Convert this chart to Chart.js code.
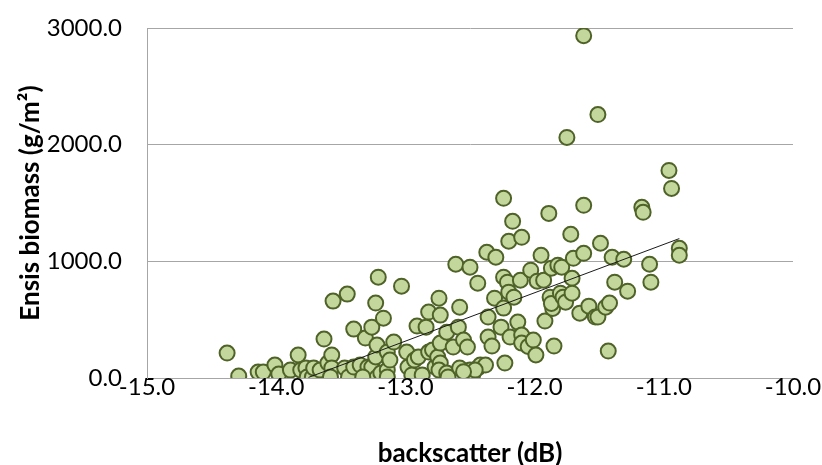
<!DOCTYPE html>
<html>
<head>
<meta charset="utf-8">
<script src="https://cdn.jsdelivr.net/npm/chart.js@4"></script>
<style>
  html, body { margin: 0; padding: 0; background: #fff; }
  #wrap { width: 822px; height: 465px; }
</style>
</head>
<body>
<div id="wrap"><canvas id="chart" width="822" height="465"></canvas></div>
<script>
// backscatter (dB) vs Ensis biomass (g/m2)
const backscatter = [
  -14.38, -14.29, -14.14, -14.10, -14.01, -13.98, -13.89, -13.83, -13.81, -13.77,
  -13.76, -13.72, -13.71, -13.66, -13.63, -13.60, -13.57, -13.57, -13.58, -13.56,
  -13.47, -13.45, -13.44, -13.40, -13.40, -13.35, -13.31, -13.29, -13.26, -13.26,
  -13.23, -13.23, -13.22, -13.22, -13.21, -13.19, -13.17, -13.14, -13.14, -13.14,
  -13.12, -13.09, -13.33, -13.03, -12.99, -12.98, -12.95, -12.93, -12.91, -12.90,
  -12.87, -12.84, -12.82, -12.82, -12.79, -12.77, -12.75, -12.74, -12.73, -12.73,
  -12.73, -12.74, -12.68, -12.68, -12.67, -12.63, -12.61, -12.59, -12.58, -12.58,
  -12.55, -12.52, -12.50, -12.50, -12.48, -12.44, -12.44, -12.42, -12.38, -12.37,
  -12.36, -12.36, -12.33, -12.31, -12.30, -12.26, -12.24, -12.24, -12.24, -12.23,
  -12.21, -12.20, -12.20, -12.17, -12.19, -12.16, -12.13, -12.10, -12.11, -12.10,
  -12.10, -12.05, -12.03, -12.01, -11.99, -11.98, -11.95, -11.93, -11.92, -11.89,
  -11.87, -11.88, -11.86, -11.87, -11.85, -11.82, -11.80, -11.79, -11.78, -11.76,
  -11.75, -11.72, -11.71, -11.71, -11.70, -11.65, -11.62, -11.62, -11.62, -11.58,
  -11.53, -11.51, -11.51, -11.49, -11.45, -11.42, -11.43, -11.40, -11.38, -11.31,
  -11.28, -11.17, -11.16, -11.11, -11.10, -10.96, -10.94, -10.88, -10.88, -12.46,
  -12.55
];
const biomass = [
  214, 17, 51, 51, 111, 34, 68, 197, 68, 86,
  9, 9, 86, 68, 334, 128, 197, 86, 9, 659,
  86, 719, 9, 94, 419, 111, 342, 94, 436, 94,
  642, 180, 282, 5, 864, 43, 513, 68, 222, 9,
  154, 308, 9, 787, 222, 94, 26, 154, 445, 180,
  26, 436, 222, 565, 240, 94, 180, 684, 539, 299,
  128, 68, 393, 43, 9, 265, 975, 436, 607, 86,
  325, 265, 950, 68, 26, 86, 813, 111, 111, 1078,
  522, 351, 274, 684, 1035, 436, 1540, 864, 599, 128,
  821, 1172, 736, 1343, 351, 693, 479, 368, 838, 1206,
  299, 270, 924, 325, 197, 830, 1052, 838, 488, 1411,
  941, 693, 596, 639, 274, 967, 727, 950, 693, 650,
  2062, 1232, 855, 727, 1026, 556, 1480, 2934, 1069, 616,
  522, 522, 2258, 1155, 607, 642, 231, 1035, 821, 1018,
  744, 1463, 1420, 975, 821, 1779, 1625, 1112, 1052, 68,
  54
];

// linear trendline end points
const trendX = [-13.75, -10.88];
const trendY = [5, 1195];

const xTicks = [-15, -14, -13, -12, -11, -10];
const yTicks = [0, 1000, 2000, 3000];

const points = backscatter.map((x, i) => ({ x: x, y: biomass[i] }));
const trend = trendX.map((x, i) => ({ x: x, y: trendY[i] }));

const tickFont = { family: "Lato", size: 24 };
const titleFont = { family: "Lato", size: 26, weight: "bold", lineHeight: 1.1 };
const axisGrey = "#a6a6a6";

const ctx = document.getElementById("chart").getContext("2d");
new Chart(ctx, {
  type: "scatter",
  data: {
    datasets: [
      {
        data: trend,
        showLine: true,
        borderColor: "#1a1a1a",
        borderWidth: 1,
        pointRadius: 0,
        order: 0
      },
      {
        data: points,
        backgroundColor: "#c3d69b",
        borderColor: "#4f6228",
        borderWidth: 2,
        pointRadius: 7.5,
        order: 1
      }
    ]
  },
  options: {
    responsive: false,
    animation: false,
    layout: { autoPadding: false, padding: { top: 28, right: 29, left: 0, bottom: 0 } },
    plugins: { legend: { display: false }, tooltip: { enabled: false } },
    scales: {
      x: {
        type: "linear",
        min: -15,
        max: -10,
        afterBuildTicks: s => { s.ticks = xTicks.map(v => ({ value: v })); },
        afterFit: s => { s.height = 87; },
        grid: { display: false, drawTicks: false },
        border: { display: true, color: axisGrey, width: 1 },
        ticks: { font: tickFont, color: "#000", padding: -5, maxRotation: 0,
                 callback: v => v.toFixed(1) },
        title: { display: true, text: "backscatter (dB)", font: titleFont,
                 color: "#000", padding: { top: 0, bottom: -3 } }
      },
      y: {
        min: 0,
        max: 3000,
        afterBuildTicks: s => { s.ticks = yTicks.map(v => ({ value: v })); },
        // the big label gap should not push the plot area down
        afterFit: s => { s.width = 147; s.paddingTop = 14; s.paddingBottom = 14; },
        grid: { color: axisGrey, drawTicks: false },
        border: { display: true, color: axisGrey, width: 1 },
        ticks: { font: tickFont, color: "#000", padding: 25,
                 callback: v => v.toFixed(1) },
        title: { display: true, text: "Ensis biomass (g/m²)", font: titleFont,
                 color: "#000", padding: { top: 16, bottom: 0 } }
      }
    }
  }
});
</script>
</body>
</html>
